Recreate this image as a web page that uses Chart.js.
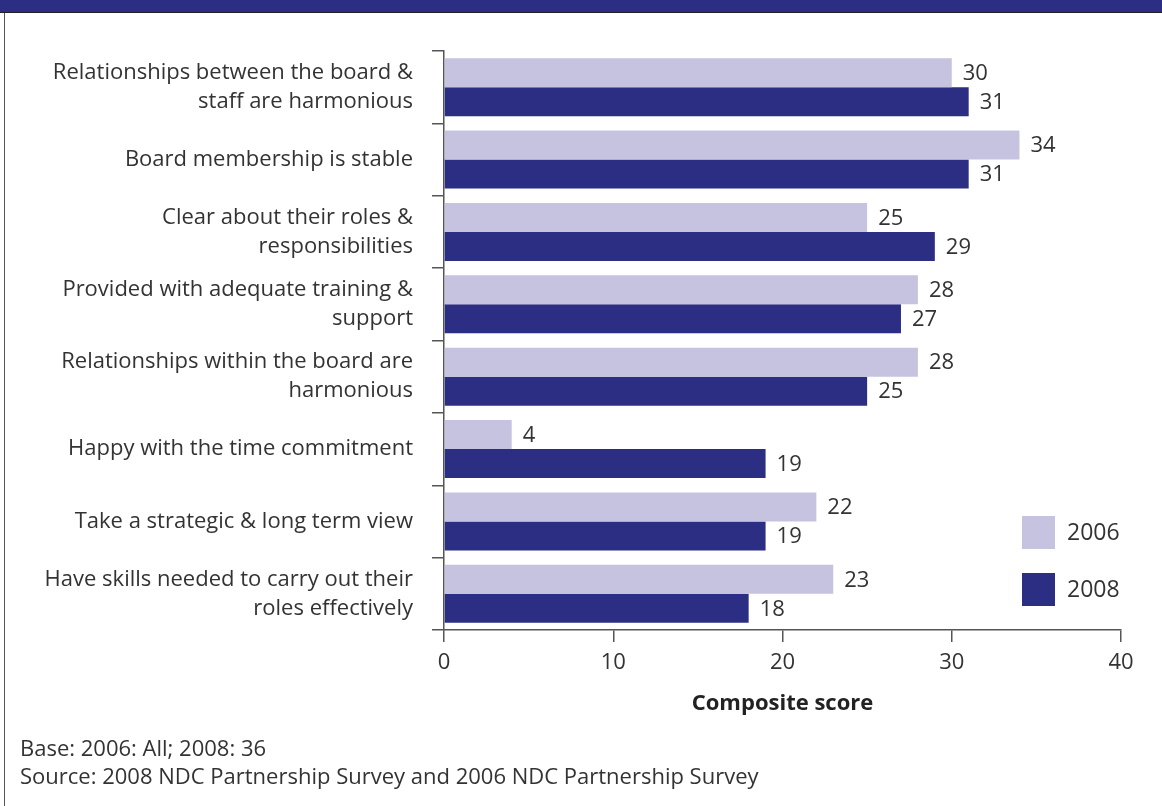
<!DOCTYPE html>
<html>
<head>
<meta charset="utf-8">
<script src="https://cdn.jsdelivr.net/npm/chart.js@4.4.1/dist/chart.umd.min.js"></script>
<style>
  html, body { margin: 0; padding: 0; background: #fff; }
  body { width: 1162px; height: 806px; position: relative; overflow: hidden; font-family: "Open Sans", sans-serif; color: #333; }
  #topBand { position: absolute; left: 0; top: 0; width: 1162px; height: 12px; background: #2b2e83; border-bottom: 1px solid #222; }
  #frameLeft { position: absolute; left: 4px; top: 13px; width: 1px; height: 793px; background: #555; }
  #chartBox { position: absolute; left: 0; top: 0; width: 1162px; height: 806px; }
  .note { position: absolute; left: 20px; font-size: 22px; line-height: 28px; color: #333; }
</style>
</head>
<body>
<div id="topBand"></div>
<div id="frameLeft"></div>
<div id="chartBox"><canvas id="boardChart"></canvas></div>
<div class="note" style="top: 733px;">Base: 2006: All; 2008: 36</div>
<div class="note" style="top: 761px;">Source: 2008 NDC Partnership Survey and 2006 NDC Partnership Survey</div>

<script>
// Statements about the board, each wrapped over the lines shown on the axis
const categories = [
  ['Relationships between the board &', 'staff are harmonious'],
  'Board membership is stable',
  ['Clear about their roles &', 'responsibilities'],
  ['Provided with adequate training &', 'support'],
  ['Relationships within the board are', 'harmonious'],
  'Happy with the time commitment',
  'Take a strategic & long term view',
  ['Have skills needed to carry out their', 'roles effectively']
];

const seriesNames = ['2006', '2008'];
const scores2006 = [30, 34, 25, 28, 28, 4, 22, 23];
const scores2008 = [31, 31, 29, 27, 25, 19, 19, 18];
const xTicks = [0, 10, 20, 30, 40];

const colors = ['#c5c3df', '#2b2e83'];
const textColor = '#333';
const axisColor = '#555';
const fontFamily = '"Open Sans", sans-serif';

// value written just past the end of each bar
const valueLabels = {
  id: 'valueLabels',
  afterDatasetsDraw(chart) {
    const ctx = chart.ctx;
    ctx.save();
    ctx.font = '22px ' + fontFamily;
    ctx.fillStyle = textColor;
    ctx.textAlign = 'left';
    ctx.textBaseline = 'middle';
    chart.data.datasets.forEach((ds, i) => {
      chart.getDatasetMeta(i).data.forEach((bar, j) => {
        ctx.fillText(String(ds.data[j]), bar.x + 11, bar.y + 1);
      });
    });
    ctx.restore();
  }
};

// square swatches stacked in the lower right of the plot
const boxLegend = {
  id: 'boxLegend',
  afterDraw(chart) {
    const ctx = chart.ctx;
    const area = chart.chartArea;
    const size = 33;
    const x = area.right - 99;
    let y = area.bottom - 114;
    ctx.save();
    ctx.font = '23px ' + fontFamily;
    ctx.textAlign = 'left';
    ctx.textBaseline = 'middle';
    chart.data.datasets.forEach(ds => {
      ctx.fillStyle = ds.backgroundColor;
      ctx.fillRect(x, y, size, size);
      ctx.fillStyle = textColor;
      ctx.fillText(ds.label, x + 45, y + size / 2 + 1);
      y += 57;
    });
    ctx.restore();
  }
};

const ctx = document.getElementById('boardChart').getContext('2d');
new Chart(ctx, {
  type: 'bar',
  data: {
    labels: categories,
    datasets: [
      { label: seriesNames[0], data: scores2006, backgroundColor: colors[0], borderWidth: 0 },
      { label: seriesNames[1], data: scores2008, backgroundColor: colors[1], borderWidth: 0 }
    ]
  },
  options: {
    indexAxis: 'y',
    responsive: true,
    maintainAspectRatio: false,
    animation: false,
    layout: { padding: { top: 51, right: 41, bottom: 76, left: 0 } },
    datasets: { bar: { categoryPercentage: 0.8, barPercentage: 1.0 } },
    plugins: {
      legend: { display: false },
      tooltip: { enabled: false }
    },
    scales: {
      x: {
        min: 0,
        max: 40,
        afterBuildTicks(scale) {
          scale.ticks = xTicks.map(v => ({ value: v }));
        },
        afterFit(scale) { scale.height = 100; },
        grid: { drawOnChartArea: false, drawTicks: true, tickLength: 12, color: axisColor, lineWidth: 1.5 },
        border: { display: true, color: axisColor, width: 1.5 },
        ticks: { color: textColor, font: { family: fontFamily, size: 22 }, padding: 8 },
        title: {
          display: true,
          text: 'Composite score',
          color: '#222',
          font: { family: fontFamily, size: 22, weight: 'bold' },
          padding: { top: 0, bottom: 13 }
        }
      },
      y: {
        afterFit(scale) { scale.width = 444; },
        grid: { offset: true, drawOnChartArea: false, drawTicks: true, tickLength: 12, color: axisColor, lineWidth: 1.5 },
        border: { display: true, color: axisColor, width: 1.5 },
        ticks: {
          color: textColor,
          font: { family: fontFamily, size: 22, lineHeight: 1.32 },
          padding: 19,
          autoSkip: false
        }
      }
    }
  },
  plugins: [valueLabels, boxLegend]
});
</script>
</body>
</html>
